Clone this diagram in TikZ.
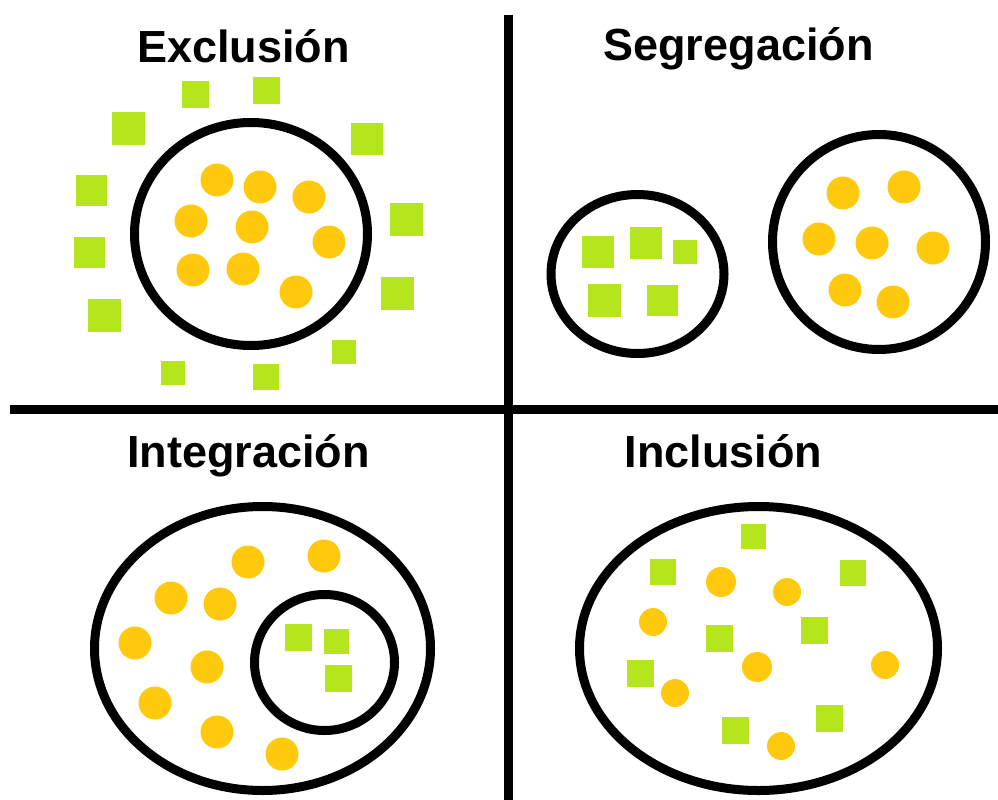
\documentclass[tikz,border=0pt]{standalone}
\usepackage{fontspec}
\setmainfont{Liberation Sans}
\usepackage{tikz}
\usetikzlibrary{shapes.geometric}

\definecolor{grassgreen}{HTML}{B5E61D}
\definecolor{sungold}{HTML}{FFC90E}

\begin{document}
\begin{tikzpicture}[x=1pt, y=-1pt,
		title/.style={anchor=base, inner sep=0pt, font=\fontsize{45}{54}\selectfont\bfseries},
		ring/.style={draw, ellipse, line width=9pt, inner sep=0pt},
		dot/.style={circle, fill=sungold, inner sep=0pt, minimum size=#1pt},
		dot/.default=33,
		tile/.style={rectangle, fill=grassgreen, inner sep=0pt, minimum size=#1pt},
		tile/.default=27,
		divider/.style={line width=9pt}]
		\useasboundingbox (0,0) rectangle (998,800);
		% quadrants
		\coordinate (h-w) at (10,409);
		\coordinate (h-e) at (998,409);
		\coordinate (v-n) at (508.5,15);
		\coordinate (v-s) at (508.5,800);
		\draw[divider] (h-w) -- (h-e);
		\draw[divider] (v-n) -- (v-s);
		
		\node[title] (t-exc) at (243.5,63) {Exclusión};
		\node[title] (t-seg) at (738.5,61) {Segregación};
		\node[title] (t-int) at (248.5,467) {Integración};
		\node[title] (t-inc) at (723.5,467) {Inclusión};
		
		% exclusion
		\node[ring, minimum width=233pt, minimum height=223pt] (exc) at (251,234) {};
		\foreach \x/\y [count=\i] in {217/180, 260/187, 309/197, 191/221, 252/227, 329/242, 193/270, 243/269, 296/292}
			\node[dot] (exc-d\i) at (\x,\y) {};
		\foreach \x/\y/\s [count=\i] in {195/94/27, 266/90/27, 128/128/33, 367/139/32, 91/190/31, 406/219/33, 89/252/31, 397/293/33, 104/315/33, 344/352/24, 173/373/24, 266/377/26}
			\node[tile=\s] (exc-s\i) at (\x,\y) {};
		
		% segregation
		\node[ring, minimum width=173pt, minimum height=159pt] (seg-a) at (637.5,274) {};
		\node[ring, minimum width=213pt, minimum height=215pt] (seg-b) at (879,242) {};
		\foreach \x/\y/\s [count=\i] in {598/252/32, 646/243/32, 685/252/24, 604/300/33, 662/300/31}
			\node[tile=\s] (seg-s\i) at (\x,\y) {};
		\foreach \x/\y [count=\i] in {843/193, 904/187, 819/239, 872/243, 933/248, 845/290, 893/302}
			\node[dot] (seg-d\i) at (\x,\y) {};
		
		% integration
		\node[ring, minimum width=336pt, minimum height=284pt] (int-a) at (262.5,648.5) {};
		\node[ring, minimum width=140pt, minimum height=136pt] (int-b) at (324.5,662.5) {};
		\foreach \x/\y [count=\i] in {248/562, 324/556, 171/598, 220/604, 135/643, 207/667, 155/703, 217/732, 282/754}
			\node[dot] (int-d\i) at (\x,\y) {};
		\foreach \x/\y/\s [count=\i] in {298/637/27, 336/641/25, 338/678/27}
			\node[tile=\s] (int-s\i) at (\x,\y) {};
		
		% inclusion
		\node[ring, minimum width=358pt, minimum height=284pt] (inc) at (758.5,648.5) {};
		\foreach \x/\y/\s [count=\i] in {753/536/25, 663/572/26, 853/573/26, 719/638/27, 814/630/27, 640/673/27, 829/718/27, 735/730/27}
			\node[tile=\s] (inc-s\i) at (\x,\y) {};
		\foreach \x/\y/\s [count=\i] in {721/582/30, 787/592/28, 653/622/28, 757/667/30, 885/665/28, 675/693/28, 781/746/28}
			\node[dot=\s] (inc-d\i) at (\x,\y) {};
	\end{tikzpicture}
\end{document}
